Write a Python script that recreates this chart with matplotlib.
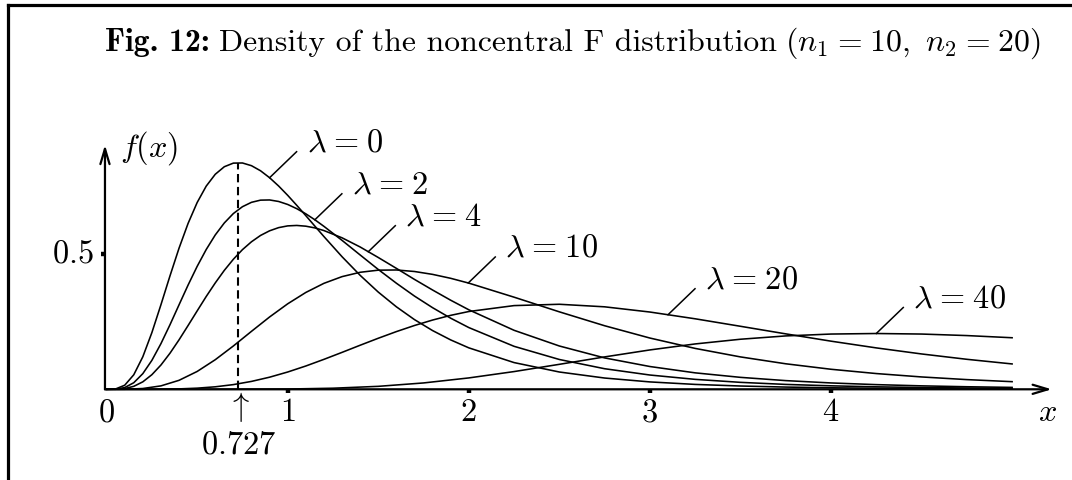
import numpy as np
import matplotlib.pyplot as plt
from matplotlib.lines import Line2D

plt.rcParams['mathtext.fontset'] = 'cm'

# densities of the noncentral F(10, 20) distribution for several lambda
# finer steps where the low-lambda curves bend sharply
x_fine = [0.0, 0.05, 0.1, 0.15, 0.2, 0.25, 0.3, 0.35, 0.4, 0.45, 0.5, 0.55, 0.6,
          0.65, 0.7, 0.75, 0.8, 0.85, 0.9, 0.95, 1.0, 1.05, 1.1, 1.15, 1.2,
          1.3, 1.4, 1.5, 1.6, 1.7, 1.8, 1.9, 2.0,
          2.25, 2.5, 2.75, 3.0, 3.25, 3.5, 3.75, 4.0, 4.25, 4.5, 4.75, 5.0]

f_lam0 = [0.0, 0.0014, 0.0150, 0.0535, 0.1198, 0.2088, 0.3114, 0.4178, 0.5198, 0.6111, 0.6879, 0.7483, 0.7920,
          0.8198, 0.8331, 0.8336, 0.8236, 0.8049, 0.7793, 0.7487, 0.7144, 0.6776, 0.6396, 0.6010, 0.5626,
          0.4884, 0.4198, 0.3581, 0.3039, 0.2567, 0.2163, 0.1819, 0.1527,
          0.0984, 0.0637, 0.0415, 0.0272, 0.0180, 0.0121, 0.0082, 0.0056, 0.0039, 0.0027, 0.0019, 0.0013]

f_lam2 = [0.0, 0.0005, 0.0064, 0.0242, 0.0577, 0.1066, 0.1681, 0.2378, 0.3112, 0.3840, 0.4527, 0.5148, 0.5685,
          0.6127, 0.6474, 0.6725, 0.6887, 0.6967, 0.6974, 0.6918, 0.6808, 0.6653, 0.6463, 0.6244, 0.6002,
          0.5486, 0.4948, 0.4414, 0.3908, 0.3434, 0.3006, 0.2619, 0.2274,
          0.1583, 0.1098, 0.0758, 0.0526, 0.0366, 0.0256, 0.0180, 0.0128, 0.0091, 0.0066, 0.0048, 0.0035]

f_lam4 = [0.0, 0.0002, 0.0027, 0.0109, 0.0275, 0.0538, 0.0894, 0.1329, 0.1822, 0.2350, 0.2887, 0.3418, 0.3918,
          0.4381, 0.4790, 0.5143, 0.5434, 0.5667, 0.5838, 0.5955, 0.6019, 0.6035, 0.6008, 0.5945, 0.5847,
          0.5580, 0.5242, 0.4855, 0.4455, 0.4048, 0.3657, 0.3281, 0.2929,
          0.2173, 0.1595, 0.1156, 0.0839, 0.0606, 0.0440, 0.0320, 0.0234, 0.0172, 0.0127, 0.0094, 0.0070]

x_mid = [0.0, 0.1, 0.2, 0.3, 0.4, 0.5, 0.6, 0.7, 0.8, 0.9, 1.0,
         1.1, 1.2, 1.3, 1.4, 1.5, 1.6, 1.7, 1.8, 1.9, 2.0,
         2.25, 2.5, 2.75, 3.0, 3.25, 3.5, 3.75, 4.0, 4.25, 4.5, 4.75, 5.0]

f_lam10 = [0.0, 0.0002, 0.0029, 0.0126, 0.0331, 0.0657, 0.1090, 0.1596, 0.2135, 0.2664, 0.3149,
           0.3567, 0.3903, 0.4150, 0.4310, 0.4388, 0.4395, 0.4339, 0.4233, 0.4088, 0.3911,
           0.3393, 0.2853, 0.2341, 0.1888, 0.1506, 0.1193, 0.0940, 0.0738, 0.0580, 0.0455, 0.0357, 0.0281]

f_lam20 = [0.0, 0.0000, 0.0001, 0.0004, 0.0015, 0.0042, 0.0092, 0.0173, 0.0291, 0.0446, 0.0637,
           0.0858, 0.1103, 0.1360, 0.1623, 0.1880, 0.2125, 0.2350, 0.2551, 0.2724, 0.2865,
           0.3083, 0.3132, 0.3038, 0.2846, 0.2597, 0.2321, 0.2042, 0.1773, 0.1525, 0.1302, 0.1105, 0.0934]

x_lam40 = [0.0, 0.5, 0.75, 1.0, 1.25, 1.5, 1.75, 2.0, 2.25, 2.5, 2.75,
           3.0, 3.25, 3.5, 3.75, 4.0, 4.25, 4.5, 4.75, 5.0]
f_lam40 = [0.0, 0.0000, 0.0002, 0.0010, 0.0040, 0.0109, 0.0234, 0.0419, 0.0653, 0.0920, 0.1193,
           0.1450, 0.1671, 0.1844, 0.1966, 0.2035, 0.2055, 0.2035, 0.1979, 0.1899]

lambdas = [0, 2, 4, 10, 20, 40]
label_at = [0.90, 1.15, 1.445, 1.997, 3.10, 4.25]   # where each leader leaves its curve

mode_x = 0.727
mode_f = 0.8348
x_ticks = [1, 2, 3, 4]
y_ticks = [0.5]

curves = [(x_fine, f_lam0), (x_fine, f_lam2), (x_fine, f_lam4),
          (x_mid, f_lam10), (x_mid, f_lam20), (x_lam40, f_lam40)]

# one axes over the whole canvas, 1 unit = 181.1 px across, 271.5 px up
PX_X, PX_Y = 181.1, 271.5
W, H = 1072, 480
fig = plt.figure(figsize=(W / 100, H / 100), dpi=100)
ax = fig.add_axes([0, 0, 1, 1])
ax.set_xlim(-106.6 / PX_X, (W - 106.6) / PX_X)
ax.set_ylim(-(H - 389.3) / PX_Y, 389.3 / PX_Y)
ax.axis('off')

for xs, fs in curves:
    ax.plot(xs, fs, color='black', lw=1.15)

# axes with open arrow heads
arr = dict(arrowstyle='->,head_length=1.1,head_width=0.33', lw=1.6,
           color='black', mutation_scale=10, shrinkA=0, shrinkB=0)
ax.annotate('', xy=(5.219, 0), xytext=(-0.009, 0), arrowprops=arr)
ax.annotate('', xy=(-0.009, 0.900), xytext=(-0.009, 0), arrowprops=arr)

# small tick marks
for t in x_ticks:
    ax.plot([t, t], [0, -4 / PX_Y], color='black', lw=3.2, solid_capstyle='butt')
for t in y_ticks:
    ax.plot([-0.009 - 4 / PX_X, -0.009], [t, t], color='black', lw=3.2, solid_capstyle='butt')

fs_lab = 23.3
ax.text(0, -0.087, r'$0$', ha='center', va='center', fontsize=fs_lab)
for t in x_ticks:
    ax.text(t, -0.087, r'$%d$' % t, ha='center', va='center', fontsize=fs_lab)
ax.text(5.193, -0.085, r'$x$', ha='center', va='center', fontsize=fs_lab)
for t in y_ticks:
    ax.text(-0.07, t, r'$%s$' % t, ha='right', va='center', fontsize=fs_lab)
ax.text(0.074, 0.89, r'$f(x)$', ha='left', va='center', fontsize=fs_lab)

# mode of the central distribution
ax.plot([mode_x, mode_x], [0, mode_f], color='black', lw=1.5, ls=(0, (4, 2.2)))
ax.text(mode_x, -0.067, r'$\uparrow$', ha='center', va='center', fontsize=fs_lab)
ax.text(mode_x, -0.205, r'$%.3f$' % mode_x, ha='center', va='center', fontsize=fs_lab)

# wider gaps around "=" as in TeX
EQ = r'\hspace{0.08}=\hspace{0.08}'

# curve labels with short leaders
dx, dy = 27 / PX_X, 26 / PX_Y
for lam, xa, (xs, fs) in zip(lambdas, label_at, curves):
    ya = np.interp(xa, xs, fs)
    ax.plot([xa, xa + dx], [ya, ya + dy], color='black', lw=1.1)
    ax.text(xa + dx + 10 / PX_X, ya + dy + 9 / PX_Y, r'$\lambda%s%d$' % (EQ, lam),
            ha='left', va='center', fontsize=fs_lab)

# title: bold tag, roman text, then the parameters in math
fs_title = 22.85
base_y = 1 - 51 / H
renderer = fig.canvas.get_renderer()
t1 = fig.text(105 / W, base_y, 'Fig. 12:', family='cmb10', fontsize=fs_title, va='baseline')
x_next = t1.get_window_extent(renderer).x1 + 9
t2 = fig.text(x_next / W, base_y, 'Density of the noncentral F distribution',
              family='cmr10', fontsize=fs_title, va='baseline')
x_next = t2.get_window_extent(renderer).x1 + 8
fig.text(x_next / W, base_y, r'$(n_1%s10,\ n_2%s20)$' % (EQ, EQ),
         fontsize=fs_title, va='baseline')

# frame along the left and top edges
fig.add_artist(Line2D([8 / W, 8 / W], [0, 1 - 5 / H], color='black', lw=2.3))
fig.add_artist(Line2D([8 / W, 1], [1 - 5 / H, 1 - 5 / H], color='black', lw=2.3))

fig.savefig('out.png', dpi=100)
